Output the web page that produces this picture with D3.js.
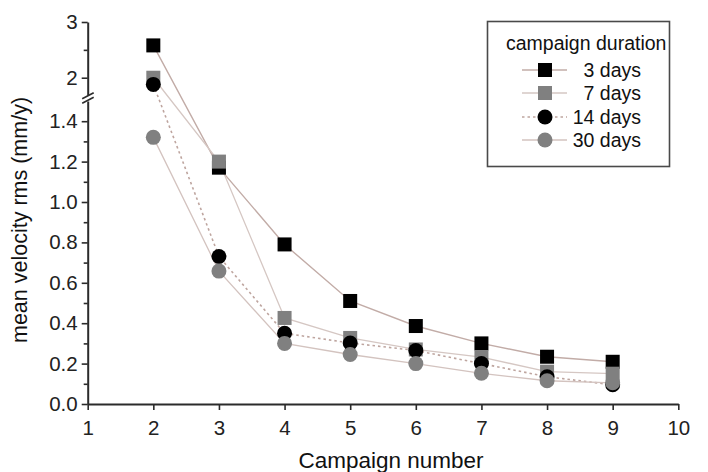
<!DOCTYPE html>
<html>
<head>
<meta charset="utf-8">
<script src="https://cdn.jsdelivr.net/npm/d3@7/dist/d3.min.js"></script>
<style>
  html, body { margin: 0; padding: 0; background: #fff; }
  svg { display: block; font-family: "Liberation Sans", Arial, Helvetica, sans-serif; }
</style>
</head>
<body>
<svg id="chart" width="708" height="472"></svg>
<script>
// Campaign numbers on the x axis
const campaigns = [2, 3, 4, 5, 6, 7, 8, 9];

// Mean velocity rms (mm/y) per campaign duration
const days3  = [2.58, 1.17, 0.79, 0.51, 0.386, 0.30, 0.234, 0.209];
const days7  = [2.00, 1.20, 0.426, 0.327, 0.27, 0.232, 0.16, 0.15];
const days14 = [1.88, 0.73, 0.35, 0.302, 0.265, 0.20, 0.135, 0.095];
const days30 = [1.32, 0.658, 0.30, 0.245, 0.20, 0.152, 0.115, 0.105];

const seriesNames = ["3 days", "7 days", "14 days", "30 days"];

// Axis ticks
const xTicks = [1, 2, 3, 4, 5, 6, 7, 8, 9, 10];
const yLowTicks = [0, 0.2, 0.4, 0.6, 0.8, 1.0, 1.2, 1.4];
const yLowMinor = [0.1, 0.3, 0.5, 0.7, 0.9, 1.1, 1.3];
const yUpTicks = [2, 3];
const yUpMinor = [2.5];

const svg = d3.select("#chart");

const x = d3.scaleLinear().domain([1, 10]).range([87.7, 678.3]);
// broken y axis: lower part 0 - 1.5, upper part above the break
const yLow = d3.scaleLinear().domain([0, 1.5]).range([404, 101]);
const yUp = d3.scaleLinear().domain([1.69, 3]).range([95, 22]);
const breakAt = 1.6;
const y = v => (v > breakAt ? yUp(v) : yLow(v));

const axisColor = "#2b2b2b";

const styles = [
  { name: seriesNames[0], values: days3,  shape: "square", fill: "#000000", line: "#c2aca7", dash: null, width: 1.4 },
  { name: seriesNames[1], values: days7,  shape: "square", fill: "#808080", line: "#d5c7c3", dash: null, width: 1.3 },
  { name: seriesNames[2], values: days14, shape: "circle", fill: "#000000", line: "#bea59f", dash: "2.5,3", width: 1.6 },
  { name: seriesNames[3], values: days30, shape: "circle", fill: "#808080", line: "#d3c3bf", dash: null, width: 1.3 }
];

// ---- axes ----
const xAxis = svg.append("g")
  .attr("transform", `translate(0,${yLow(0)})`)
  .call(d3.axisBottom(x).tickValues(xTicks).tickFormat(d3.format("d")).tickSize(6).tickSizeOuter(0));
xAxis.select(".domain").attr("stroke", axisColor).attr("stroke-width", 2);
xAxis.selectAll(".tick line").attr("stroke", axisColor).attr("stroke-width", 1.6);
xAxis.selectAll(".tick text")
  .attr("fill", "#222").attr("font-size", 20.5).attr("font-family", "Liberation Sans, Arial, sans-serif")
  .attr("dy", "1.05em");

function styleY(g) {
  g.select(".domain").attr("stroke", axisColor).attr("stroke-width", 2);
  g.selectAll(".tick line").attr("stroke", axisColor).attr("stroke-width", 1.6);
  g.selectAll(".tick text")
    .attr("fill", "#222").attr("font-size", 20.5).attr("font-family", "Liberation Sans, Arial, sans-serif")
    .attr("x", -10);
}

const xAxisPos = x(1);
const yLowAxis = svg.append("g").attr("transform", `translate(${xAxisPos},0)`)
  .call(d3.axisLeft(yLow).tickValues(yLowTicks).tickFormat(d3.format(".1f")).tickSize(6).tickSizeOuter(0))
  .call(styleY);
svg.append("g").attr("transform", `translate(${xAxisPos},0)`)
  .call(d3.axisLeft(yLow).tickValues(yLowMinor).tickFormat("").tickSize(4).tickSizeOuter(0))
  .call(g => g.select(".domain").remove())
  .call(g => g.selectAll(".tick line").attr("stroke", axisColor).attr("stroke-width", 1.6));

svg.append("g").attr("transform", `translate(${xAxisPos},0)`)
  .call(d3.axisLeft(yUp).tickValues(yUpTicks).tickFormat(d3.format("d")).tickSize(6).tickSizeOuter(0))
  .call(styleY);
svg.append("g").attr("transform", `translate(${xAxisPos},0)`)
  .call(d3.axisLeft(yUp).tickValues(yUpMinor).tickFormat("").tickSize(4).tickSizeOuter(0))
  .call(g => g.select(".domain").remove())
  .call(g => g.selectAll(".tick line").attr("stroke", axisColor).attr("stroke-width", 1.6));

// axis break marks
const breakMid = (yUp.range()[0] + yLow.range()[1]) / 2;
[-2.2, 2.2].forEach(off => {
  svg.append("line")
    .attr("x1", xAxisPos - 5.5).attr("y1", breakMid + off + 3)
    .attr("x2", xAxisPos + 6).attr("y2", breakMid + off - 3)
    .attr("stroke", axisColor).attr("stroke-width", 1.6);
});

// axis titles
svg.append("text")
  .attr("x", 391).attr("y", 468)
  .attr("text-anchor", "middle")
  .attr("font-size", 22.5).attr("fill", "#111")
  .text("Campaign number");

svg.append("text")
  .attr("transform", "translate(27,220) rotate(-90)")
  .attr("text-anchor", "middle")
  .attr("font-size", 21.5).attr("fill", "#111")
  .text("mean velocity rms (mm/y)");

// ---- series lines ----
const line = d3.line().x((d, i) => x(campaigns[i])).y(d => y(d));
styles.forEach(s => {
  svg.append("path")
    .datum(s.values)
    .attr("d", line)
    .attr("fill", "none")
    .attr("stroke", s.line)
    .attr("stroke-width", s.width)
    .attr("stroke-dasharray", s.dash);
});

// ---- markers ----
const sq = 14, rad = 7.5;
function drawMarker(g, shape, fill, cx, cy) {
  if (shape === "square") {
    g.append("rect").attr("x", cx - sq / 2).attr("y", cy - sq / 2)
      .attr("width", sq).attr("height", sq).attr("fill", fill);
  } else {
    g.append("circle").attr("cx", cx).attr("cy", cy).attr("r", rad).attr("fill", fill);
  }
}
styles.forEach(s => {
  const g = svg.append("g");
  s.values.forEach((v, i) => drawMarker(g, s.shape, s.fill, x(campaigns[i]), y(v)));
});

// ---- legend ----
const legend = svg.append("g");
legend.append("rect")
  .attr("x", 487.5).attr("y", 21.5).attr("width", 182).attr("height", 145)
  .attr("fill", "#fff").attr("stroke", "#4a4a4a").attr("stroke-width", 1.6);
legend.append("text")
  .attr("x", 506).attr("y", 50)
  .attr("font-size", 19.5).attr("fill", "#111")
  .text("campaign duration");
const rowY = [70, 93, 117, 140];
styles.forEach((s, i) => {
  legend.append("line")
    .attr("x1", 522).attr("x2", 567).attr("y1", rowY[i]).attr("y2", rowY[i])
    .attr("stroke", s.line).attr("stroke-width", s.width).attr("stroke-dasharray", s.dash);
  drawMarker(legend, s.shape, s.fill, 545, rowY[i]);
  legend.append("text")
    .attr("x", 641).attr("y", rowY[i] + 7)
    .attr("text-anchor", "end")
    .attr("font-size", 19.5).attr("fill", "#111")
    .text(s.name);
});
</script>
</body>
</html>
